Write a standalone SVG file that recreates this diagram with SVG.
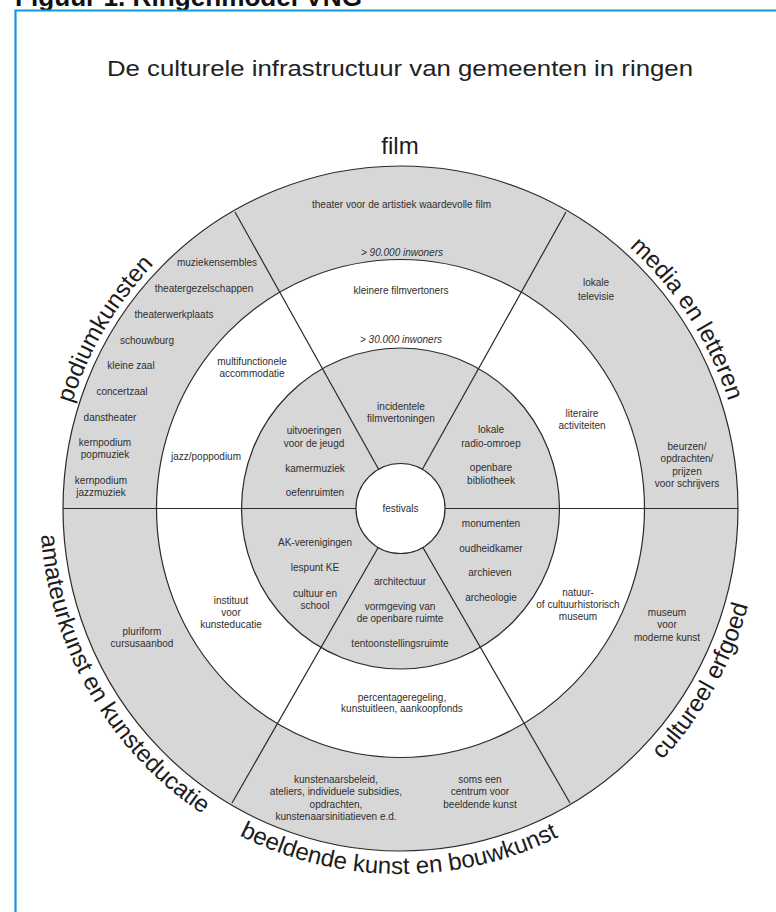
<svg xmlns="http://www.w3.org/2000/svg" width="776" height="912" viewBox="0 0 776 912">
<style>
  text { font-family: "Liberation Sans", Arial, sans-serif; }
  .s { font-size: 10px; fill: #2e2e2e; text-anchor: middle; }
  .i { font-style: italic; }
  .big { font-size: 24px; fill: #1c1c1c; }
  .title { font-size: 22px; fill: #222; text-anchor: middle; }
  .ring { stroke: #2a2a2a; stroke-width: 1.2; }
  .gray { fill: #d7d7d7; }
  .white { fill: #ffffff; }
  .div { stroke: #2a2a2a; stroke-width: 1.2; fill: none; }
  .frame { stroke: #0f9bd7; stroke-width: 2.2; fill: none; }
</style>
<defs>
  <path id="p-podium" d="M56.84,532.88 A344.5,349.5 0 0 1 260.38,189.21"/>
  <path id="p-media" d="M528.16,183.88 A344.5,349.5 0 0 1 744.84,519.17"/>
  <path id="p-amateur" d="M41.11,479.82 A360.5,365.5 0 0 0 251.0,841.09"/>
  <path id="p-beeldend" d="M192.44,806.98 A360.5,365.5 0 0 0 605.99,808.81"/>
  <path id="p-erfgoed" d="M555.70,838.40 A360.5,365.5 0 0 0 759.34,473.47"/>
</defs>
<rect x="0" y="0" width="776" height="912" fill="#ffffff"/>
<text x="15" y="6" font-family="Liberation Serif, serif" font-weight="bold" font-size="26" fill="#111" textLength="347" lengthAdjust="spacingAndGlyphs">Figuur 1. Ringenmodel VNG</text>
<path class="frame" d="M15.5,912 V10.5 H776"/>
<text class="title" x="400" y="76" textLength="586" lengthAdjust="spacingAndGlyphs">De culturele infrastructuur van gemeenten in ringen</text>

<g id="rings">
  <ellipse class="ring gray" cx="400.5" cy="508.5" rx="337.5" ry="342.5"/>
  <ellipse class="ring white" cx="400.5" cy="508.5" rx="244" ry="249"/>
  <ellipse class="ring gray" cx="400.5" cy="508.5" rx="159" ry="160.5"/>
</g>
<g id="connectors">
  <line class="div" x1="63" y1="508.5" x2="738" y2="508.5"/>
  <line class="div" x1="235" y1="212" x2="400.5" y2="508.5"/>
  <line class="div" x1="566" y1="212" x2="400.5" y2="508.5"/>
  <line class="div" x1="232" y1="803" x2="400.5" y2="508.5"/>
  <line class="div" x1="570" y1="803" x2="400.5" y2="508.5"/>
</g>
<g id="festivals">
  <ellipse class="ring white" cx="400.5" cy="508.5" rx="44.5" ry="45"/>
  <text class="s" x="400.5" y="511.5">festivals</text>
</g>

<g id="film">
  <text class="big" x="400" y="154" text-anchor="middle">film</text>
  <text class="s" x="401.5" y="207.5">theater voor de artistiek waardevolle film</text>
  <text class="s i" x="402" y="255.5">&gt; 90.000 inwoners</text>
  <text class="s" x="401" y="293.5">kleinere filmvertoners</text>
  <text class="s i" x="401" y="342.5">&gt; 30.000 inwoners</text>
  <text class="s" x="401" y="409.5">incidentele</text>
  <text class="s" x="401" y="421.5">filmvertoningen</text>
</g>

<g id="podiumkunsten">
  <text class="big"><textPath href="#p-podium" startOffset="50%" text-anchor="middle">podiumkunsten</textPath></text>
  <text class="s" x="217" y="265.5">muziekensembles</text>
  <text class="s" x="204" y="291.5">theatergezelschappen</text>
  <text class="s" x="174" y="317.5">theaterwerkplaats</text>
  <text class="s" x="147" y="343.5">schouwburg</text>
  <text class="s" x="131" y="368.5">kleine zaal</text>
  <text class="s" x="122" y="394.5">concertzaal</text>
  <text class="s" x="110" y="420.5">danstheater</text>
  <text class="s" x="105" y="445.5">kernpodium</text>
  <text class="s" x="105" y="457.5">popmuziek</text>
  <text class="s" x="101" y="483.5">kernpodium</text>
  <text class="s" x="101" y="495.5">jazzmuziek</text>
  <text class="s" x="252" y="364.5">multifunctionele</text>
  <text class="s" x="252" y="376.5">accommodatie</text>
  <text class="s" x="206" y="459.5">jazz/poppodium</text>
  <text class="s" x="314" y="433.5">uitvoeringen</text>
  <text class="s" x="314" y="446.5">voor de jeugd</text>
  <text class="s" x="315" y="471.5">kamermuziek</text>
  <text class="s" x="315" y="495.5">oefenruimten</text>
</g>

<g id="media-en-letteren">
  <text class="big"><textPath href="#p-media" startOffset="50%" text-anchor="middle">media en letteren</textPath></text>
  <text class="s" x="596" y="285.5">lokale</text>
  <text class="s" x="596" y="299.5">televisie</text>
  <text class="s" x="582" y="416.5">literaire</text>
  <text class="s" x="582" y="428.5">activiteiten</text>
  <text class="s" x="491" y="432.5">lokale</text>
  <text class="s" x="491" y="446.5">radio-omroep</text>
  <text class="s" x="491" y="470.5">openbare</text>
  <text class="s" x="491" y="483.5">bibliotheek</text>
  <text class="s" x="687" y="449.5">beurzen/</text>
  <text class="s" x="687" y="462">opdrachten/</text>
  <text class="s" x="687" y="474.5">prijzen</text>
  <text class="s" x="687" y="487">voor schrijvers</text>
</g>

<g id="amateurkunst-en-kunsteducatie">
  <text class="big"><textPath href="#p-amateur" startOffset="50%" text-anchor="middle">amateurkunst en kunsteducatie</textPath></text>
  <text class="s" x="315" y="545.5">AK-verenigingen</text>
  <text class="s" x="315" y="570.5">lespunt KE</text>
  <text class="s" x="315" y="596.5">cultuur en</text>
  <text class="s" x="315" y="608.5">school</text>
  <text class="s" x="231" y="603.5">instituut</text>
  <text class="s" x="231" y="615.5">voor</text>
  <text class="s" x="231" y="627.5">kunsteducatie</text>
  <text class="s" x="142" y="634.5">pluriform</text>
  <text class="s" x="142" y="646.5">cursusaanbod</text>
</g>

<g id="beeldende-kunst-en-bouwkunst">
  <text class="big"><textPath href="#p-beeldend" startOffset="50%" text-anchor="middle">beeldende kunst en bouwkunst</textPath></text>
  <text class="s" x="400" y="584.5">architectuur</text>
  <text class="s" x="400" y="609.5">vormgeving van</text>
  <text class="s" x="400" y="621.5">de openbare ruimte</text>
  <text class="s" x="400" y="646.5">tentoonstellingsruimte</text>
  <text class="s" x="402" y="700.5">percentageregeling,</text>
  <text class="s" x="402" y="712">kunstuitleen, aankoopfonds</text>
  <text class="s" x="336" y="782.5">kunstenaarsbeleid,</text>
  <text class="s" x="336" y="795">ateliers, individuele subsidies,</text>
  <text class="s" x="336" y="807.5">opdrachten,</text>
  <text class="s" x="336" y="819.5">kunstenaarsinitiatieven e.d.</text>
  <text class="s" x="480" y="782.5">soms een</text>
  <text class="s" x="480" y="795">centrum voor</text>
  <text class="s" x="480" y="807.5">beeldende kunst</text>
</g>

<g id="cultureel-erfgoed">
  <text class="big"><textPath href="#p-erfgoed" startOffset="50%" text-anchor="middle">cultureel erfgoed</textPath></text>
  <text class="s" x="491" y="526.5">monumenten</text>
  <text class="s" x="491" y="551.5">oudheidkamer</text>
  <text class="s" x="490" y="575.5">archieven</text>
  <text class="s" x="491" y="600.5">archeologie</text>
  <text class="s" x="578" y="595.5">natuur-</text>
  <text class="s" x="578" y="607.5">of cultuurhistorisch</text>
  <text class="s" x="578" y="620">museum</text>
  <text class="s" x="667" y="615.5">museum</text>
  <text class="s" x="667" y="628">voor</text>
  <text class="s" x="667" y="640.5">moderne kunst</text>
</g>
</svg>
